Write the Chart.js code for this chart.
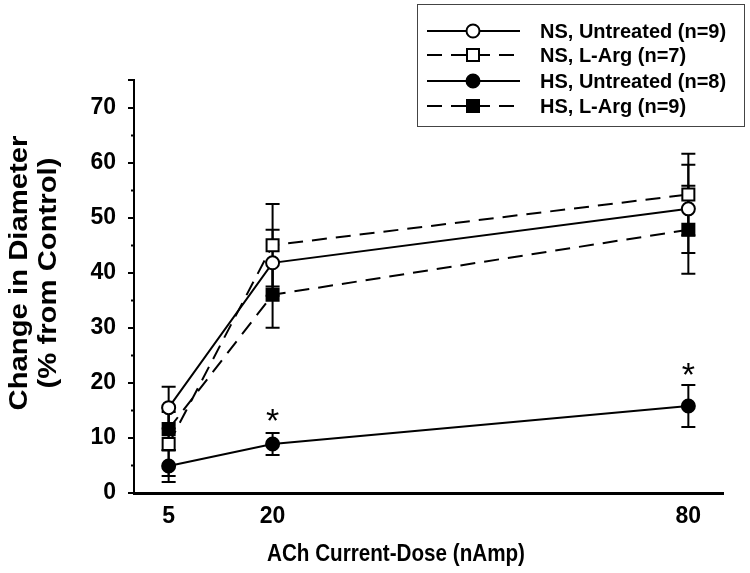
<!DOCTYPE html>
<html>
<head>
<meta charset="utf-8">
<script src="https://cdn.jsdelivr.net/npm/chart.js@4.4.0/dist/chart.umd.min.js"></script>
<style>
  html, body { margin: 0; padding: 0; background: #fff; }
  #wrap { width: 750px; height: 573px; }
</style>
</head>
<body>
<div id="wrap"><canvas id="chart" width="750" height="573"></canvas></div>
<script>
// ACh dose (nAmp) on x, % change in diameter on y
const doses = [5, 20, 80];

const nsUntreated = [15.5, 41.8, 51.6];
const nsUntreatedErr = [3.8, 6.0, 8.0];
const nsLArg = [8.9, 45.0, 54.2];
const nsLArgErr = [5.8, 7.5, 7.4];
const hsUntreated = [4.9, 8.9, 15.8];
const hsUntreatedErr = [2.9, 2.0, 3.8];
const hsLArg = [11.6, 36.0, 47.8];
const hsLArgErr = [3.9, 6.0, 8.0];

const seriesLabels = ['NS, Untreated (n=9)', 'NS, L-Arg (n=7)', 'HS, Untreated (n=8)', 'HS, L-Arg (n=9)'];
const yTicks = [0, 10, 20, 30, 40, 50, 60, 70];

// significance stars (dose, y)
const starDoses = [20, 80];
const starValues = [14.5, 22.9];

const xTitle = 'ACh Current-Dose (nAmp)';
const yTitle = ['Change in Diameter', '(% from Control)'];

const FONT = '"Liberation Sans", Arial, sans-serif';
const DASH = [15, 9];

function points(ys) {
    return doses.map((d, i) => ({ x: d, y: ys[i] }));
}

function makeSet(label, ys, errs, style, filled, dashed) {
    return {
        label: label,
        data: points(ys),
        errors: errs,
        borderColor: '#000',
        borderWidth: 2,
        borderDash: dashed ? DASH : [],
        pointStyle: style,
        pointRadius: style === 'rect' ? 8.5 : 6.5,
        pointBorderWidth: 2,
        pointBorderColor: '#000',
        pointBackgroundColor: filled ? '#000' : '#fff',
        fill: false,
        tension: 0
    };
}

const datasets = [
    makeSet(seriesLabels[0], nsUntreated, nsUntreatedErr, 'circle', false, false),
    makeSet(seriesLabels[1], nsLArg, nsLArgErr, 'rect', false, true),
    makeSet(seriesLabels[2], hsUntreated, hsUntreatedErr, 'circle', true, false),
    makeSet(seriesLabels[3], hsLArg, hsLArgErr, 'rect', true, true)
];

// error bars under the markers
const errorBars = {
    id: 'errorBars',
    beforeDatasetsDraw(chart) {
        const ctx = chart.ctx;
        const x = chart.scales.x, y = chart.scales.y;
        ctx.save();
        ctx.strokeStyle = '#000';
        ctx.lineWidth = 2;
        chart.data.datasets.forEach(ds => {
            ds.data.forEach((p, i) => {
                const e = ds.errors[i];
                const px = x.getPixelForValue(p.x);
                const top = y.getPixelForValue(p.y + e);
                const bot = y.getPixelForValue(p.y - e);
                ctx.beginPath();
                ctx.moveTo(px, top); ctx.lineTo(px, bot);
                ctx.moveTo(px - 7, top); ctx.lineTo(px + 7, top);
                ctx.moveTo(px - 7, bot); ctx.lineTo(px + 7, bot);
                ctx.stroke();
            });
        });
        ctx.restore();
    }
};

function drawMarker(ctx, style, filled, cx, cy) {
    ctx.setLineDash([]);
    ctx.fillStyle = filled ? '#000' : '#fff';
    ctx.beginPath();
    if (style === 'circle') {
        ctx.arc(cx, cy, 6.5, 0, Math.PI * 2);
    } else {
        ctx.rect(cx - 6, cy - 6, 12, 12);
    }
    ctx.fill();
    ctx.stroke();
}

const extras = {
    id: 'extras',
    afterDraw(chart) {
        const ctx = chart.ctx;
        const x = chart.scales.x, y = chart.scales.y;
        ctx.save();

        // minor ticks on y
        ctx.strokeStyle = '#000';
        ctx.lineWidth = 2;
        for (let v = 5; v < 75; v += 10) {
            const py = Math.round(y.getPixelForValue(v)) + 0.5;
            ctx.beginPath();
            ctx.moveTo(chart.chartArea.left - 3, py);
            ctx.lineTo(chart.chartArea.left, py);
            ctx.stroke();
        }

        // stars
        ctx.fillStyle = '#000';
        ctx.font = '34px ' + FONT;
        ctx.textAlign = 'center';
        ctx.textBaseline = 'alphabetic';
        starDoses.forEach((d, i) => {
            ctx.fillText('*', x.getPixelForValue(d), y.getPixelForValue(starValues[i]) + 19);
        });

        // axis titles (the original lettering is a bit narrow / tall)
        ctx.font = 'bold 24px ' + FONT;
        ctx.textBaseline = 'middle';
        ctx.save();
        ctx.translate(396, 554);
        ctx.scale(0.86, 1);
        ctx.fillText(xTitle, 0, 0);
        ctx.restore();

        ctx.save();
        ctx.translate(20, 273);
        ctx.rotate(-Math.PI / 2);
        ctx.scale(1.22, 1.05);
        ctx.fillText(yTitle[0], 0, 0);
        ctx.fillText(yTitle[1], 0, 28);
        ctx.restore();

        // legend box
        ctx.lineWidth = 1;
        ctx.strokeStyle = '#444';
        ctx.strokeRect(417.5, 4.5, 327, 122);
        const rowsY = [31, 55, 81, 106];
        ctx.font = 'bold 20px ' + FONT;
        ctx.textAlign = 'left';
        chart.data.datasets.forEach((ds, i) => {
            const ly = rowsY[i];
            ctx.strokeStyle = '#000';
            ctx.lineWidth = 2;
            ctx.setLineDash(ds.borderDash);
            ctx.beginPath();
            ctx.moveTo(427, ly);
            ctx.lineTo(520, ly);
            ctx.stroke();
            drawMarker(ctx, ds.pointStyle, ds.pointBackgroundColor === '#000', 473, ly);
            ctx.fillStyle = '#000';
            ctx.fillText(ds.label, 540, ly + 1);
        });

        ctx.restore();
    }
};

new Chart(document.getElementById('chart'), {
    type: 'line',
    data: { datasets: datasets },
    options: {
        responsive: false,
        animation: false,
        events: [],
        layout: { padding: { top: 80, right: 27, left: 0, bottom: 0 } },
        plugins: {
            legend: { display: false },
            tooltip: { enabled: false }
        },
        scales: {
            x: {
                type: 'linear',
                min: 0,
                max: 85,
                afterBuildTicks: scale => { scale.ticks = doses.map(v => ({ value: v })); },
                afterFit: scale => { scale.height = 80; },
                grid: { display: false },
                border: { display: true, color: '#000', width: 3 },
                ticks: {
                    color: '#000',
                    padding: 2,
                    font: { family: FONT, size: 23, weight: 'bold' }
                }
            },
            y: {
                min: 0,
                max: 75,
                afterBuildTicks: scale => {
                    scale.ticks = yTicks.concat([75]).map(v => ({ value: v }));
                },
                afterFit: scale => { scale.width = 134; },
                grid: {
                    display: true,
                    drawOnChartArea: false,
                    drawTicks: true,
                    tickLength: 6,
                    color: '#000',
                    lineWidth: 2
                },
                border: { display: true, color: '#000', width: 2 },
                ticks: {
                    color: '#000',
                    padding: 12,
                    callback: v => (yTicks.includes(v) ? v : ''),
                    font: { family: FONT, size: 23, weight: 'bold' }
                }
            }
        }
    },
    plugins: [errorBars, extras]
});
</script>
</body>
</html>
